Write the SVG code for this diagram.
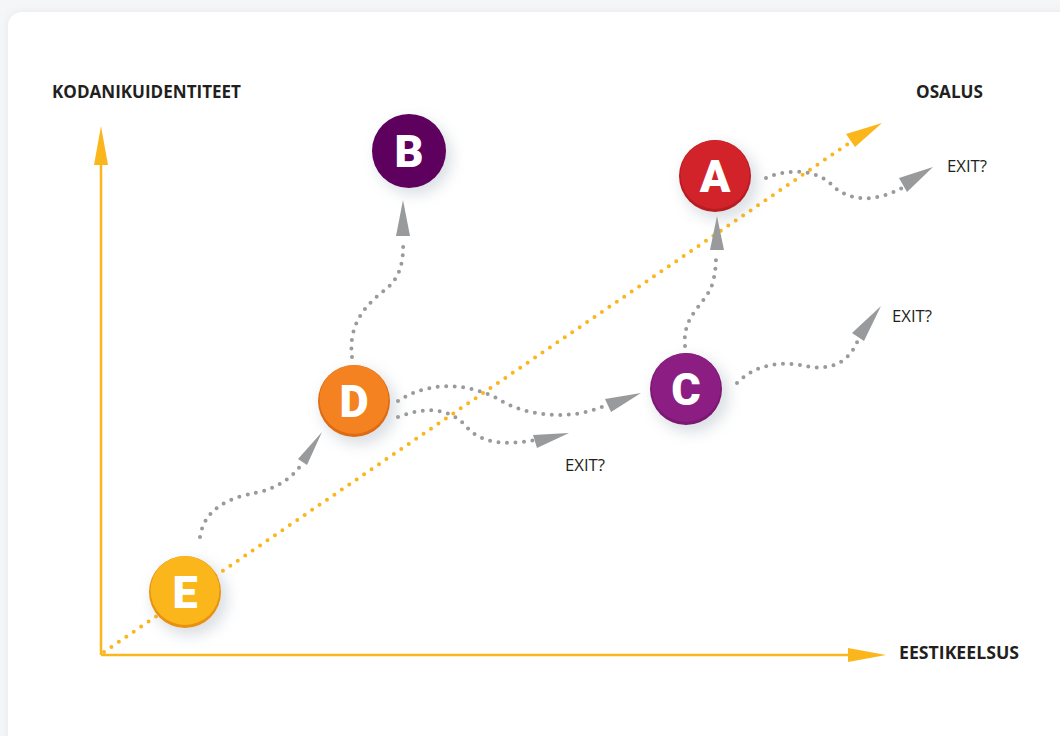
<svg xmlns="http://www.w3.org/2000/svg" width="1060" height="736" viewBox="0 0 1060 736">
<defs>
<filter id="cardsh" x="-5%" y="-5%" width="110%" height="110%"><feGaussianBlur stdDeviation="4"/></filter>
<filter id="nsh" x="-50%" y="-50%" width="200%" height="200%"><feGaussianBlur stdDeviation="7"/></filter>
<style>
.axis{stroke:#fbb61c;stroke-width:2.5;fill:none}
.diag{stroke:#fbb61c;stroke-width:4;fill:none;stroke-linecap:round;stroke-dasharray:0 9}
.flow{stroke:#999a9c;stroke-width:4;fill:none;stroke-linecap:round;stroke-dasharray:0 8.5}
.ah{fill:#999a9c}
.yh{fill:#fbb61c}
.lab{font-family:"Open Sans","Liberation Sans",sans-serif;font-weight:700;font-size:17px;fill:#231f20}
.exit{font-family:"Open Sans","Liberation Sans",sans-serif;font-size:17px;fill:#231f20}
.let{font-family:"Roboto","Liberation Sans",sans-serif;font-weight:900;font-size:45px;fill:#fff;text-anchor:middle}
.sh{fill:#9aa6b2;opacity:0.35}
</style>
</defs>
<rect width="1060" height="736" fill="#f4f6f7"/>
<rect x="8" y="12" width="1080" height="760" rx="14" fill="#e6e9ec" filter="url(#cardsh)"/>
<rect x="8" y="12" width="1080" height="760" rx="14" fill="#ffffff"/>

<g id="axes">
<line class="axis" x1="101" y1="655" x2="101" y2="160"/>
<polygon class="yh" points="101,126 94,165 108,165"/>
<line class="axis" x1="101" y1="655" x2="852" y2="655"/>
<polygon class="yh" points="886,655 848,648 848,662"/>
<path class="diag" d="M104,652 L858,137"/>
<polygon class="yh" points="882,123 846,134 855,147"/>
</g>

<g id="connectors">
<path class="flow" d="M200,537 C205,505 235,497 255,493 C275,489 290,480 302,464"/>
<polygon class="ah" points="322,432 298,459 307,465"/>
<path class="flow" d="M352,357 C348,325 365,305 385,290 C400,278 404,262 403,240"/>
<polygon class="ah" points="403,200 396,236 410,236"/>
<path class="flow" d="M398,401 C430,380 470,383 500,400 C530,418 575,420 606,405"/>
<polygon class="ah" points="641,393 605,399 611,412"/>
<path class="flow" d="M398,417 C430,405 450,410 465,425 C480,445 510,445 535,440"/>
<polygon class="ah" points="569,433 533,435 537,448"/>
<path class="flow" d="M685,346 C682,315 705,305 712,285 C716,272 716,262 716,252"/>
<polygon class="ah" points="717,216 710,250 724,250"/>
<path class="flow" d="M737,383 C760,360 790,362 810,367 C835,370 850,360 858,340"/>
<polygon class="ah" points="881,306 852,333 864,341"/>
<path class="flow" d="M766,178 C790,168 815,170 830,183 C850,205 880,200 902,188"/>
<polygon class="ah" points="933,167 899,178 907,192"/>
</g>

<g id="labels">
<text class="lab" x="52" y="98" textLength="189" lengthAdjust="spacingAndGlyphs">KODANIKUIDENTITEET</text>
<text class="lab" x="916" y="98" textLength="67" lengthAdjust="spacingAndGlyphs">OSALUS</text>
<text class="lab" x="899" y="659" textLength="120" lengthAdjust="spacingAndGlyphs">EESTIKEELSUS</text>
<text class="exit" x="947" y="172" textLength="40" lengthAdjust="spacingAndGlyphs">EXIT?</text>
<text class="exit" x="892" y="322" textLength="40" lengthAdjust="spacingAndGlyphs">EXIT?</text>
<text class="exit" x="565" y="471" textLength="40" lengthAdjust="spacingAndGlyphs">EXIT?</text>
</g>

<g id="node-E">
<circle class="sh" cx="190" cy="598" r="38" filter="url(#nsh)"/>
<circle cx="185" cy="592" r="36" fill="#e8910f"/>
<circle cx="185" cy="590.5" r="34.5" fill="#fbb61c"/>
<text class="let" x="185" y="608">E</text>
</g>
<g id="node-D">
<circle class="sh" cx="359" cy="407" r="38" filter="url(#nsh)"/>
<circle cx="354" cy="401" r="36" fill="#de6a14"/>
<circle cx="354" cy="399.5" r="34.5" fill="#f58220"/>
<text class="let" x="354" y="417">D</text>
</g>
<g id="node-B">
<circle class="sh" cx="414" cy="157" r="38" filter="url(#nsh)"/>
<circle cx="409" cy="151" r="37" fill="#5e005e"/>
<text class="let" x="409" y="167">B</text>
</g>
<g id="node-A">
<circle class="sh" cx="720" cy="182" r="38" filter="url(#nsh)"/>
<circle cx="715" cy="176" r="36" fill="#b81c22"/>
<circle cx="715" cy="174.5" r="34.5" fill="#d2232a"/>
<text class="let" x="715" y="192">A</text>
</g>
<g id="node-C">
<circle class="sh" cx="691" cy="395" r="38" filter="url(#nsh)"/>
<circle cx="686" cy="389" r="36" fill="#7a1872"/>
<circle cx="686" cy="387.5" r="34.5" fill="#8c1d82"/>
<text class="let" x="686" y="405">C</text>
</g>
</svg>
